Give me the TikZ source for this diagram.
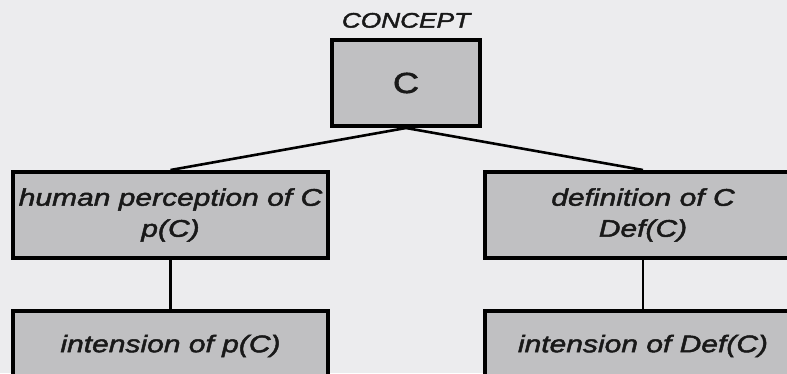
\documentclass[tikz,border=0pt]{standalone}
\usepackage{fontspec}
\setmainfont[FakeStretch=1.25, FakeBold=2]{Liberation Sans}
\usepackage{tikz}
\usetikzlibrary{positioning}
\definecolor{paper}{RGB}{236,236,238}
\definecolor{boxgray}{RGB}{192,192,194}
\tikzset{
  conceptbox/.style={draw, fill=boxgray, line width=4pt, inner sep=0pt,
    minimum height=86pt, align=center, text=black!90,
    font=\fontsize{24}{31}\selectfont\itshape},
  link/.style={line width=2.6pt}
}

\begin{document}
\begin{tikzpicture}[x=1pt, y=-1pt]

             \fill [paper] (0,0) rectangle (787,373);
             \useasboundingbox (0,0) rectangle (787,373);
             \clip (0,0) rectangle (787,373);

             \node (C) [conceptbox, minimum width=148pt, font=\fontsize{29}{30}\selectfont] at (406,83) {C};
             \node (concept) [above=10pt of C, inner sep=0pt, text=black!90, font=\fontsize{21}{24}\selectfont\itshape] {CONCEPT};

             \node (pC) [conceptbox, minimum width=315pt] at (170.5,215) {human perception of C\\p(C)};
             \node (DefC) [conceptbox, minimum width=316pt] at (643,215) {definition of C\\Def(C)};

             \node (intpC) [conceptbox, minimum width=315pt, minimum height=70pt] at (170.5,346) {intension of p(C)};
             \node (intDefC) [conceptbox, minimum width=316pt, minimum height=70pt] at (643,346) {intension of Def(C)};

             \draw [link] (C.south) -- (pC.north);
             \draw [link] (C.south) -- (DefC.north);

             \draw [link] (pC.south) -- (intpC.north);
             \draw [link] (DefC.south) -- (intDefC.north);
          \end{tikzpicture}
\end{document}
